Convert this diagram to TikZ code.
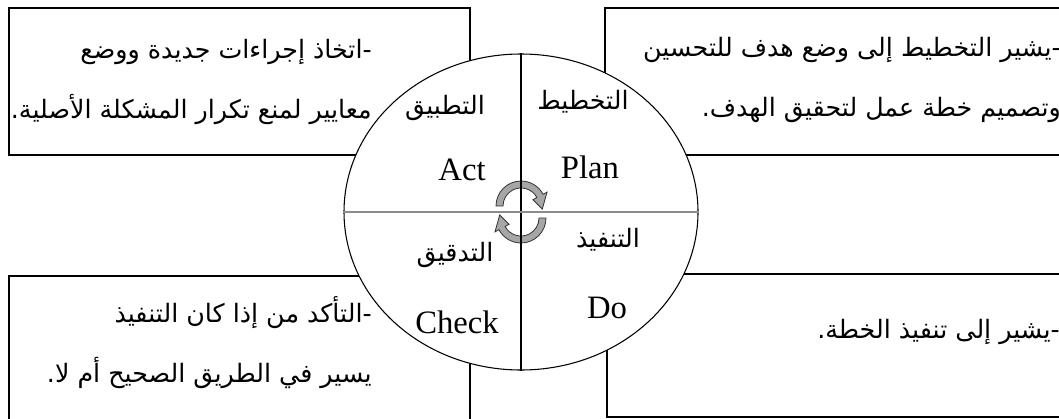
\documentclass[tikz,border=0pt]{standalone}
\usepackage{fontspec}
\setmainfont{Liberation Serif}
\newfontfamily\arabicfont[Script=Arabic]{DejaVu Sans}
\TeXXeTstate=1
\newcommand\ar[1]{{\arabicfont\beginR #1\endR}}
\usetikzlibrary{shapes.geometric}
\tikzset{pics/turn/.style={code={
  \draw[turnfill] (180:25) arc[start angle=180,end angle=28,radius=25] -- (28:29.5)
    -- (-8:21.5) -- (28:13.5) -- (28:18) arc[start angle=28,end angle=180,radius=18] -- cycle;
}}}

\begin{document}
\begin{tikzpicture}[x=0.75pt,y=0.75pt,
  panel/.style={draw,line width=1pt},
  note/.style={anchor=east,align=right,inner sep=0pt,font=\fontsize{19}{45}\selectfont},
  tag/.style={inner sep=0pt,font=\fontsize{19}{24}\selectfont},
  eng/.style={inner sep=0pt,font=\fontsize{24.5}{28}\selectfont},
  turnfill/.style={draw=black!80,fill=black!35,line width=0.6pt}]
\useasboundingbox (0,0) rectangle (1059,-418);
\clip (0,0) rectangle (1059,-418);
\draw[panel] (9,-8) rectangle (470,-155);
\draw[panel] (605,-8) rectangle (1075,-155);
\draw[panel] (9,-276) rectangle (470,-430);
\draw[panel] (607,-274) rectangle (1075,-417);
\node[draw,ellipse,fill=white,inner sep=0pt,line width=0.8pt,
  minimum width=265.5pt,minimum height=237pt] (cyc) at (521,-212) {};
\pic at (521,-206) {turn};
\pic[rotate=180] at (521,-218) {turn};
\draw[line width=0.8pt] (cyc.north) -- (cyc.south);
\draw[black!45,line width=1.9pt] (cyc.west) -- (cyc.east);
\node[tag] (actar) at (445,-108) {\ar{التطبيق}};
\node[eng] (act) at (462,-170) {Act};
\node[tag] (planar) at (583,-102) {\ar{التخطيط}};
\node[eng] (plan) at (590,-167) {Plan};
\node[tag] (checkar) at (455,-255) {\ar{التدقيق}};
\node[eng] (check) at (457,-322) {Check};
\node[tag] (doar) at (608,-240) {\ar{التنفيذ}};
\node[eng] (do) at (607,-308) {Do};
\node[note] (actnote) at (372,-82) {\ar{-اتخاذ إجراءات جديدة ووضع}\\\ar{معايير لمنع تكرار المشكلة الأصلية.}};
\node[note] (plannote) at (1061,-80) {\ar{-يشير التخطيط إلى وضع هدف للتحسين}\\\ar{وتصميم خطة عمل لتحقيق الهدف.}};
\node[note] (checknote) at (372,-343) {\ar{-التأكد من إذا كان التنفيذ}\\\ar{يسير في الطريق الصحيح أم لا.}};
\node[note] (donote) at (1060,-332) {\ar{-يشير إلى تنفيذ الخطة.}};
\end{tikzpicture}
\end{document}
